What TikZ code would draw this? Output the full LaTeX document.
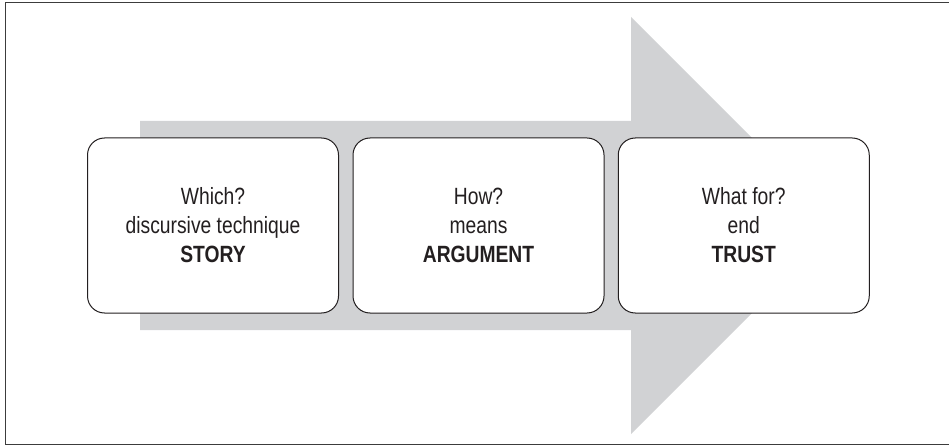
\documentclass[tikz,border=0pt]{standalone}
\usepackage{fontspec}
\setmainfont{Liberation Sans}[FakeStretch=0.82]
\definecolor{arrowgray}{RGB}{209,210,212}
\definecolor{framegray}{RGB}{60,60,60}
\definecolor{textdark}{RGB}{35,31,32}
\tikzset{
  stagebox/.style={draw=textdark, line width=1pt, fill=white, rounded corners=17pt,
    minimum width=251pt, minimum height=175pt, inner sep=0pt, align=center,
    text=textdark, font=\fontsize{23.5}{29}\selectfont},
  frameline/.style={draw=framegray, line width=1.4pt}
}
\begin{document}
\begin{tikzpicture}[x=1pt,y=-1pt]
\useasboundingbox (0,0) rectangle (949,446);
\path[frameline] (952,2.5) -- (5.5,2.5) -- (5.5,444.5) -- (952,444.5);
\fill[arrowgray] (140,121) -- (631,121) -- (631,17) -- (839.5,225.5) -- (631,434) -- (631,330) -- (140,330) -- cycle;
\node[stagebox] (box1) at (213,225.5) {Which?\\discursive technique\\\textbf{STORY}};
\node[stagebox] (box2) at (478.5,225.5) {How?\\means\\\textbf{ARGUMENT}};
\node[stagebox] (box3) at (743.75,225.5) {What for?\\end\\\textbf{TRUST}};
\end{tikzpicture}
\end{document}
